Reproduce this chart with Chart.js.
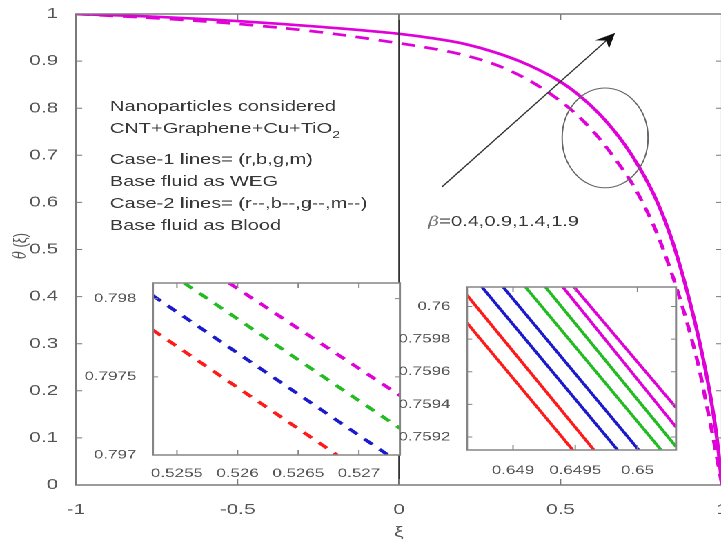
<!DOCTYPE html>
<html>
<head>
<meta charset="utf-8">
<script src="https://cdn.jsdelivr.net/npm/chart.js@4.4.1/dist/chart.umd.min.js"></script>
<style>
  html, body { margin: 0; padding: 0; background: #fff; overflow: hidden; width: 721px; height: 547px; }
  /* the source figure is stretched sideways, so the whole drawing is too */
  #wrap { position: absolute; left: 0; top: 0; width: 530px; height: 547px; transform: scaleX(1.38); transform-origin: 0 0; }
  #wrap canvas { position: absolute; }
</style>
</head>
<body>
<div id="wrap">
  <canvas id="main" width="530" height="547" style="left:0;top:0"></canvas>
  <canvas id="zoomLeft" width="235" height="210" style="left:60.1px;top:270px"></canvas>
  <canvas id="zoomRight" width="205" height="200" style="left:290px;top:275px"></canvas>
</div>
<script>
// main plot: magenta curves (beta = 1.9), case 1 solid, case 2 dashed
const xiSolid = [-1, -0.75, -0.5, -0.25, 0, 0.1, 0.2, 0.3, 0.4, 0.5, 0.56, 0.62, 0.68, 0.72, 0.76, 0.8, 0.84, 0.87, 0.9, 0.93, 0.95, 0.97, 0.985, 1];
const thetaSolid = [1, 0.994, 0.985, 0.973, 0.958, 0.949, 0.937, 0.918, 0.892, 0.856, 0.826, 0.788, 0.74, 0.701, 0.655, 0.6, 0.53, 0.465, 0.39, 0.305, 0.24, 0.165, 0.095, 0];
const xiDashed = [-1, -0.75, -0.5, -0.25, 0, 0.1, 0.2, 0.3, 0.4, 0.5, 0.56, 0.62, 0.68, 0.72, 0.76, 0.8, 0.84, 0.87, 0.9, 0.93, 0.95, 0.97, 0.985, 1];
const thetaDashed = [1, 0.991, 0.979, 0.962, 0.938, 0.927, 0.913, 0.892, 0.86, 0.815, 0.78, 0.736, 0.682, 0.642, 0.592, 0.532, 0.458, 0.395, 0.325, 0.245, 0.178, 0.11, 0.055, 0];
const mainXTicks = [-1, -0.5, 0, 0.5, 1];
const mainYTicks = [0, 0.1, 0.2, 0.3, 0.4, 0.5, 0.6, 0.7, 0.8, 0.9, 1];

// left zoom (case 2, dashed): r, b, g, m
const lzStartXi = [0.5253, 0.5253, 0.52556, 0.52593];
const lzStartTheta = [0.7978, 0.79802, 0.7981, 0.7981];
const lzEndXi = [0.52682, 0.52724, 0.52734, 0.52734];
const lzEndTheta = [0.797, 0.797, 0.79717, 0.79738];
const lzXTicks = [0.5255, 0.526, 0.5265, 0.527];
const lzYTicks = [0.797, 0.7975, 0.798];

// right zoom (solid): r, r, b, b, g, g, m, m
const rzStartXi = [0.64863, 0.64863, 0.64875, 0.64892, 0.6491, 0.64926, 0.6494, 0.64949];
const rzStartTheta = [0.76007, 0.7599, 0.76012, 0.76012, 0.76012, 0.76012, 0.76012, 0.76012];
const rzEndXi = [0.64965, 0.64948, 0.64984, 0.65001, 0.65019, 0.65031, 0.65031, 0.65031];
const rzEndTheta = [0.75912, 0.75912, 0.75912, 0.75912, 0.75912, 0.75914, 0.75926, 0.75938];
const rzXTicks = [0.649, 0.6495, 0.65];
const rzYTicks = [0.7592, 0.7594, 0.7596, 0.7598, 0.76];

// annotations
const noteLines = ["Nanoparticles considered", "CNT+Graphene+Cu+TiO", "Case-1 lines= (r,b,g,m)", "Base fluid as WEG", "Case-2 lines= (r--,b--,g--,m--)", "Base fluid as Blood"];
const noteTheta = [0.803, 0.756, 0.69, 0.643, 0.597, 0.55];
const noteXi = -0.895;
const arrowXi = [0.133, 0.669];
const arrowTheta = [0.633, 0.96];
const ringXi = [0.638, 0.133];   // centre, radius
const ringTheta = [0.737, 0.106];

const MAG = "#e000d8";
const lzColors = ["#ff1a1a", "#1a1acc", "#22bb22", MAG];
const rzColors = ["#ff1a1a", "#ff1a1a", "#1a1acc", "#1a1acc", "#22bb22", "#22bb22", MAG, MAG];
const FONT = '"Liberation Sans", Arial, sans-serif';

// box + ticks pointing inwards on all four sides
const frame = {
  id: "frame",
  beforeDraw(chart, args, opts) {
    if (!opts.fill) return;
    const a = chart.chartArea;
    chart.ctx.save();
    chart.ctx.fillStyle = "#fff";
    chart.ctx.fillRect(a.left, a.top, a.right - a.left, a.bottom - a.top);
    chart.ctx.restore();
  },
  afterDraw(chart, args, opts) {
    const { ctx, chartArea: a, scales } = chart;
    const L = opts.tick;
    ctx.save();
    ctx.strokeStyle = opts.color;
    ctx.lineWidth = opts.width;
    ctx.strokeRect(a.left, a.top, a.right - a.left, a.bottom - a.top);
    ctx.lineWidth = 1;
    ctx.beginPath();
    scales.x.ticks.forEach((t) => {
      const px = scales.x.getPixelForValue(t.value);
      ctx.moveTo(px, a.bottom); ctx.lineTo(px, a.bottom - L);
      ctx.moveTo(px, a.top); ctx.lineTo(px, a.top + L);
    });
    scales.y.ticks.forEach((t) => {
      const py = scales.y.getPixelForValue(t.value);
      ctx.moveTo(a.left, py); ctx.lineTo(a.left + L * 0.75, py);
      ctx.moveTo(a.right, py); ctx.lineTo(a.right - L * 0.75, py);
    });
    ctx.stroke();
    ctx.restore();
  },
};

const notes = {
  id: "notes",
  afterDatasetsDraw(chart) {
    const { ctx, chartArea: a, scales: { x, y } } = chart;
    ctx.save();
    // line at xi = 0
    const x0 = x.getPixelForValue(0);
    ctx.strokeStyle = "#333";
    ctx.lineWidth = 1.1;
    ctx.beginPath(); ctx.moveTo(x0, a.top); ctx.lineTo(x0, a.bottom); ctx.stroke();

    // text block
    ctx.fillStyle = "#383838";
    ctx.font = "14.5px " + FONT;
    ctx.textBaseline = "middle";
    const tx = x.getPixelForValue(noteXi);
    noteLines.forEach((s, i) => {
      const ty = y.getPixelForValue(noteTheta[i]);
      ctx.fillText(s, tx, ty);
      if (i === 1) {
        const w = ctx.measureText(s).width;
        ctx.font = "10.5px " + FONT;
        ctx.fillText("2", tx + w, ty + 6);
        ctx.font = "14.5px " + FONT;
      }
    });

    // beta label
    const bx = x.getPixelForValue(0.09), by = y.getPixelForValue(0.558);
    ctx.fillStyle = "#777";
    ctx.font = 'italic 14px "DejaVu Serif", serif';
    ctx.fillText("\u03b2", bx, by);
    const bw = ctx.measureText("\u03b2").width;
    ctx.fillStyle = "#383838";
    ctx.font = "14.5px " + FONT;
    ctx.fillText("=0.4,0.9,1.4,1.9", bx + bw, by);

    // arrow
    const ax0 = x.getPixelForValue(arrowXi[0]), ay0 = y.getPixelForValue(arrowTheta[0]);
    const ax1 = x.getPixelForValue(arrowXi[1]), ay1 = y.getPixelForValue(arrowTheta[1]);
    const ang = Math.atan2(ay1 - ay0, ax1 - ax0);
    const c = Math.cos(ang), s = Math.sin(ang);
    ctx.strokeStyle = "#333";
    ctx.lineWidth = 1.1;
    ctx.beginPath(); ctx.moveTo(ax0, ay0);
    ctx.lineTo(ax1 - 9 * c, ay1 - 9 * s); ctx.stroke();
    ctx.fillStyle = "#111";
    ctx.beginPath();
    ctx.moveTo(ax1, ay1);
    ctx.lineTo(ax1 - 15 * c + 6.5 * s, ay1 - 15 * s - 6.5 * c);
    ctx.lineTo(ax1 - 10 * c, ay1 - 10 * s);
    ctx.lineTo(ax1 - 15 * c - 6.5 * s, ay1 - 15 * s + 6.5 * c);
    ctx.closePath(); ctx.fill();

    // ring
    const cx = x.getPixelForValue(ringXi[0]), cy = y.getPixelForValue(ringTheta[0]);
    const rx = x.getPixelForValue(ringXi[0] + ringXi[1]) - cx;
    const ry = cy - y.getPixelForValue(ringTheta[0] + ringTheta[1]);
    ctx.strokeStyle = "#666";
    ctx.lineWidth = 1;
    ctx.beginPath(); ctx.ellipse(cx, cy, rx, ry, 0, 0, Math.PI * 2); ctx.stroke();

    // axis titles
    ctx.fillStyle = "#555";
    ctx.textAlign = "center";
    ctx.font = "15px " + FONT;
    ctx.fillText("\u03be", x0, 533);
    ctx.translate(15.2, 246);
    ctx.rotate(-Math.PI / 2);
    ctx.font = 'italic 13px "DejaVu Serif", serif';
    const tw = ctx.measureText("\u03b8").width;
    ctx.font = "13px " + FONT;
    const rw = ctx.measureText(" (\u03be)").width;
    ctx.textAlign = "left";
    ctx.font = 'italic 13px "DejaVu Serif", serif';
    ctx.fillText("\u03b8", -(tw + rw) / 2, 0);
    ctx.font = "13px " + FONT;
    ctx.fillText(" (\u03be)", -(tw + rw) / 2 + tw, 0);
    ctx.restore();
  },
};

function axis(min, max, tickVals, size, pad, fitSize, isX) {
  return {
    type: "linear",
    min: min,
    max: max,
    grid: { display: false },
    border: { display: false },
    afterBuildTicks: (s) => { s.ticks = tickVals.map((v) => ({ value: v })); },
    afterFit: (s) => {
      if (isX) s.height = fitSize; else s.width = fitSize;
      // keep the plot box exactly where the layout padding puts it
      s.paddingLeft = s.paddingRight = s.paddingTop = s.paddingBottom = 0;
    },
    ticks: {
      autoSkip: false,
      maxRotation: 0,
      padding: pad,
      color: "#555",
      font: { family: FONT, size: size },
      callback: (v) => String(v),
    },
  };
}

function segs(sx, sy, ex, ey, colors, width, dash) {
  return sx.map((v, i) => ({
    data: [{ x: v, y: sy[i] }, { x: ex[i], y: ey[i] }],
    borderColor: colors[i],
    borderWidth: width,
    borderDash: dash,
    pointRadius: 0,
  }));
}

const common = {
  responsive: false,
  animation: false,
  devicePixelRatio: 2,
  events: [],
};

new Chart(document.getElementById("main"), {
  type: "line",
  data: {
    datasets: [
      {
        data: xiDashed.map((v, i) => ({ x: v, y: thetaDashed[i] })),
        borderColor: MAG, borderWidth: 2.7, borderDash: [10, 7],
        pointRadius: 0, cubicInterpolationMode: "monotone",
      },
      {
        data: xiSolid.map((v, i) => ({ x: v, y: thetaSolid[i] })),
        borderColor: MAG, borderWidth: 2.7,
        pointRadius: 0, cubicInterpolationMode: "monotone",
      },
    ],
  },
  options: {
    ...common,
    layout: { padding: { top: 14, right: 6.8, left: 0, bottom: 0 } },
    scales: {
      x: axis(-1, 1, mainXTicks, 15, 8, 62, true),
      y: axis(0, 1, mainYTicks, 15, 5, 55.1, false),
    },
    plugins: {
      legend: { display: false },
      tooltip: { enabled: false },
      frame: { color: "#7a7a7a", width: 1.5, tick: 6, fill: false },
    },
  },
  plugins: [frame, notes],
});

new Chart(document.getElementById("zoomLeft"), {
  type: "line",
  data: { datasets: segs(lzStartXi, lzStartTheta, lzEndXi, lzEndTheta, lzColors, 3, [8, 7]) },
  options: {
    ...common,
    layout: { padding: { top: 13, right: 5.2, left: 0, bottom: 0 } },
    scales: {
      x: axis(0.525302, 0.527338, lzXTicks, 12.3, 3, 25, true),
      y: axis(0.797, 0.7981, lzYTicks, 12.3, 4, 50.8, false),
    },
    plugins: {
      legend: { display: false },
      tooltip: { enabled: false },
      frame: { color: "#858585", width: 1.5, tick: 5, fill: true },
    },
  },
  plugins: [frame],
});

new Chart(document.getElementById("zoomRight"), {
  type: "line",
  data: { datasets: segs(rzStartXi, rzStartTheta, rzEndXi, rzEndTheta, rzColors, 2.4, []) },
  options: {
    ...common,
    layout: { padding: { top: 12, right: 5.1, left: 0, bottom: 0 } },
    scales: {
      x: axis(0.64863, 0.65031, rzXTicks, 12.3, 5, 25, true),
      y: axis(0.75912, 0.76012, rzYTicks, 12.3, 4, 48.4, false),
    },
    plugins: {
      legend: { display: false },
      tooltip: { enabled: false },
      frame: { color: "#858585", width: 1.5, tick: 5, fill: true },
    },
  },
  plugins: [frame],
});
</script>
</body>
</html>
